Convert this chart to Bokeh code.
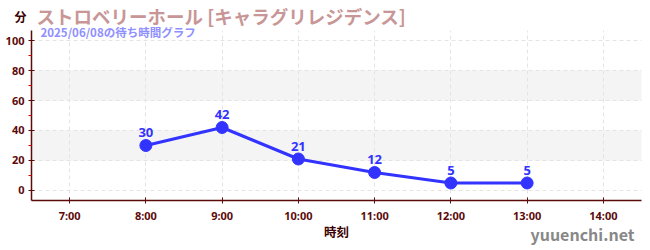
from bokeh.plotting import figure
from bokeh.models import BoxAnnotation, FixedTicker, Range1d, ColumnDataSource, LabelSet, Grid
from bokeh.embed import file_html
from bokeh.resources import INLINE

hours = [8, 9, 10, 11, 12, 13]
waits = [30, 42, 21, 12, 5, 5]
x_ticks = [7, 8, 9, 10, 11, 12, 13, 14]
x_tick_labels = ["7:00", "8:00", "9:00", "10:00", "11:00", "12:00", "13:00", "14:00"]
y_ticks = [0, 20, 40, 60, 80, 100]
y_minor = [10, 30, 50, 70, 90]
title = "ストロベリーホール [キャラグリレジデンス]"
subtitle = "2025/06/08の待ち時間グラフ"
y_unit = "分"
x_label = "時刻"
watermark = "yuuenchi.net"

W, H = 650, 250
FONT = "Noto Sans CJK JP"
NUMFONT = "Noto Sans"
AXC = "#5c0a0a"

# plotting region (data) and where it sits on the canvas (pixels)
X0, X1 = 6.5, 14.5
Y0, Y1 = -6.667, 106.667
PX_L, PX_R, PX_T, PX_B = 31, 641, 30, 200
sx = (PX_R - PX_L) / (X1 - X0)
sy = (PX_B - PX_T) / (Y1 - Y0)

# the frame fills the whole canvas; axes are pinned at fixed locations
p = figure(width=W, height=H, output_backend="svg", toolbar_location=None,
           x_range=Range1d(X0 - PX_L / sx, X1 + (W - PX_R) / sx),
           y_range=Range1d(Y0 - (H - PX_B) / sy, Y1 + PX_T / sy),
           min_border=0, min_border_left=0, min_border_right=0, min_border_top=0, min_border_bottom=0)
p.outline_line_color = None
p.background_fill_color = "white"
p.border_fill_color = "white"

for lo, hi in [(20, 40), (60, 80)]:
    p.add_layout(BoxAnnotation(bottom=lo, top=hi, left=X0, right=X1, fill_color="#f4f4f4",
                               fill_alpha=1, line_color=None, level="underlay"))

# dashed grid limited to the plotting region
p.xgrid.grid_line_color = None
p.ygrid.grid_line_color = None
if "cross_bounds" in Grid.properties():
    gx = Grid(dimension=0, ticker=FixedTicker(ticks=x_ticks), bounds=(X0, X1), cross_bounds=(Y0, Y1),
              grid_line_color="#e4e4e4", grid_line_dash="4 3")
    gy = Grid(dimension=1, ticker=FixedTicker(ticks=y_ticks), bounds=(Y0, Y1), cross_bounds=(X0, X1),
              grid_line_color="#e4e4e4", grid_line_dash="4 3")
    p.add_layout(gx)
    p.add_layout(gy)
else:
    p.segment(x0=x_ticks, x1=x_ticks, y0=[Y0] * len(x_ticks), y1=[Y1] * len(x_ticks),
              line_color="#e4e4e4", line_dash="4 3", line_width=1, level="underlay")
    p.segment(x0=[X0] * len(y_ticks), x1=[X1] * len(y_ticks), y0=y_ticks, y1=y_ticks,
              line_color="#e4e4e4", line_dash="4 3", line_width=1, level="underlay")

for ax in (p.xaxis[0], p.yaxis[0]):
    ax.axis_line_color = AXC
    ax.axis_line_width = 1.5
    ax.major_tick_line_color = AXC
    ax.major_tick_in = 3
    ax.major_tick_out = 3
    ax.major_label_text_color = AXC
    ax.major_label_text_font = NUMFONT
    ax.major_label_text_font_style = "bold"
    ax.major_label_text_font_size = "11px"
    ax.major_label_standoff = 4

p.xaxis.fixed_location = Y0
p.xaxis.bounds = (X0, X1)
p.yaxis.fixed_location = X0
p.yaxis.bounds = (Y0, Y1)

p.xaxis.ticker = FixedTicker(ticks=x_ticks)
p.xaxis.major_label_overrides = {t: l for t, l in zip(x_ticks, x_tick_labels)}
p.xaxis.minor_tick_line_color = None
p.yaxis.ticker = FixedTicker(ticks=y_ticks, minor_ticks=y_minor)
p.yaxis.minor_tick_line_color = "#dd0000"
p.yaxis.minor_tick_out = 3
p.yaxis.minor_tick_in = 0

src = ColumnDataSource(dict(x=hours, y=waits, t=[str(w) for w in waits]))
p.line("x", "y", source=src, line_color="#3333ff", line_width=3)
p.scatter("x", "y", source=src, size=12, fill_color="#3333ff", line_color="#3333ff")
p.add_layout(LabelSet(x="x", y="y", text="t", source=src, y_offset=8, text_align="center",
                      text_color="#3333ff", text_font={"value": NUMFONT}, text_font_style="bold",
                      text_font_size="13px"))

# surrounding texts (frame == canvas, so screen coords from canvas bottom-left)
texts = [title, y_unit, subtitle, x_label, watermark]
cx = [36, 14, 40, 336, 634]
cy = [15, 16, 31, 231, 233]
tsrc = ColumnDataSource(dict(
    x=cx, y=[H - c for c in cy], text=texts,
    color=["#c89696", "#3a0000", "#8f8fff", "#3a0000", "#888888"],
    size=["18.5px", "12px", "11.5px", "12.5px", "16px"],
    align=["left", "left", "left", "center", "right"],
))
p.add_layout(LabelSet(x="x", y="y", text="text", source=tsrc, x_units="screen", y_units="screen",
                      text_color="color", text_font_size="size", text_align="align",
                      text_baseline="middle", text_font={"value": FONT}, text_font_style="bold"))

open("out.html", "w").write(file_html(p, INLINE))
